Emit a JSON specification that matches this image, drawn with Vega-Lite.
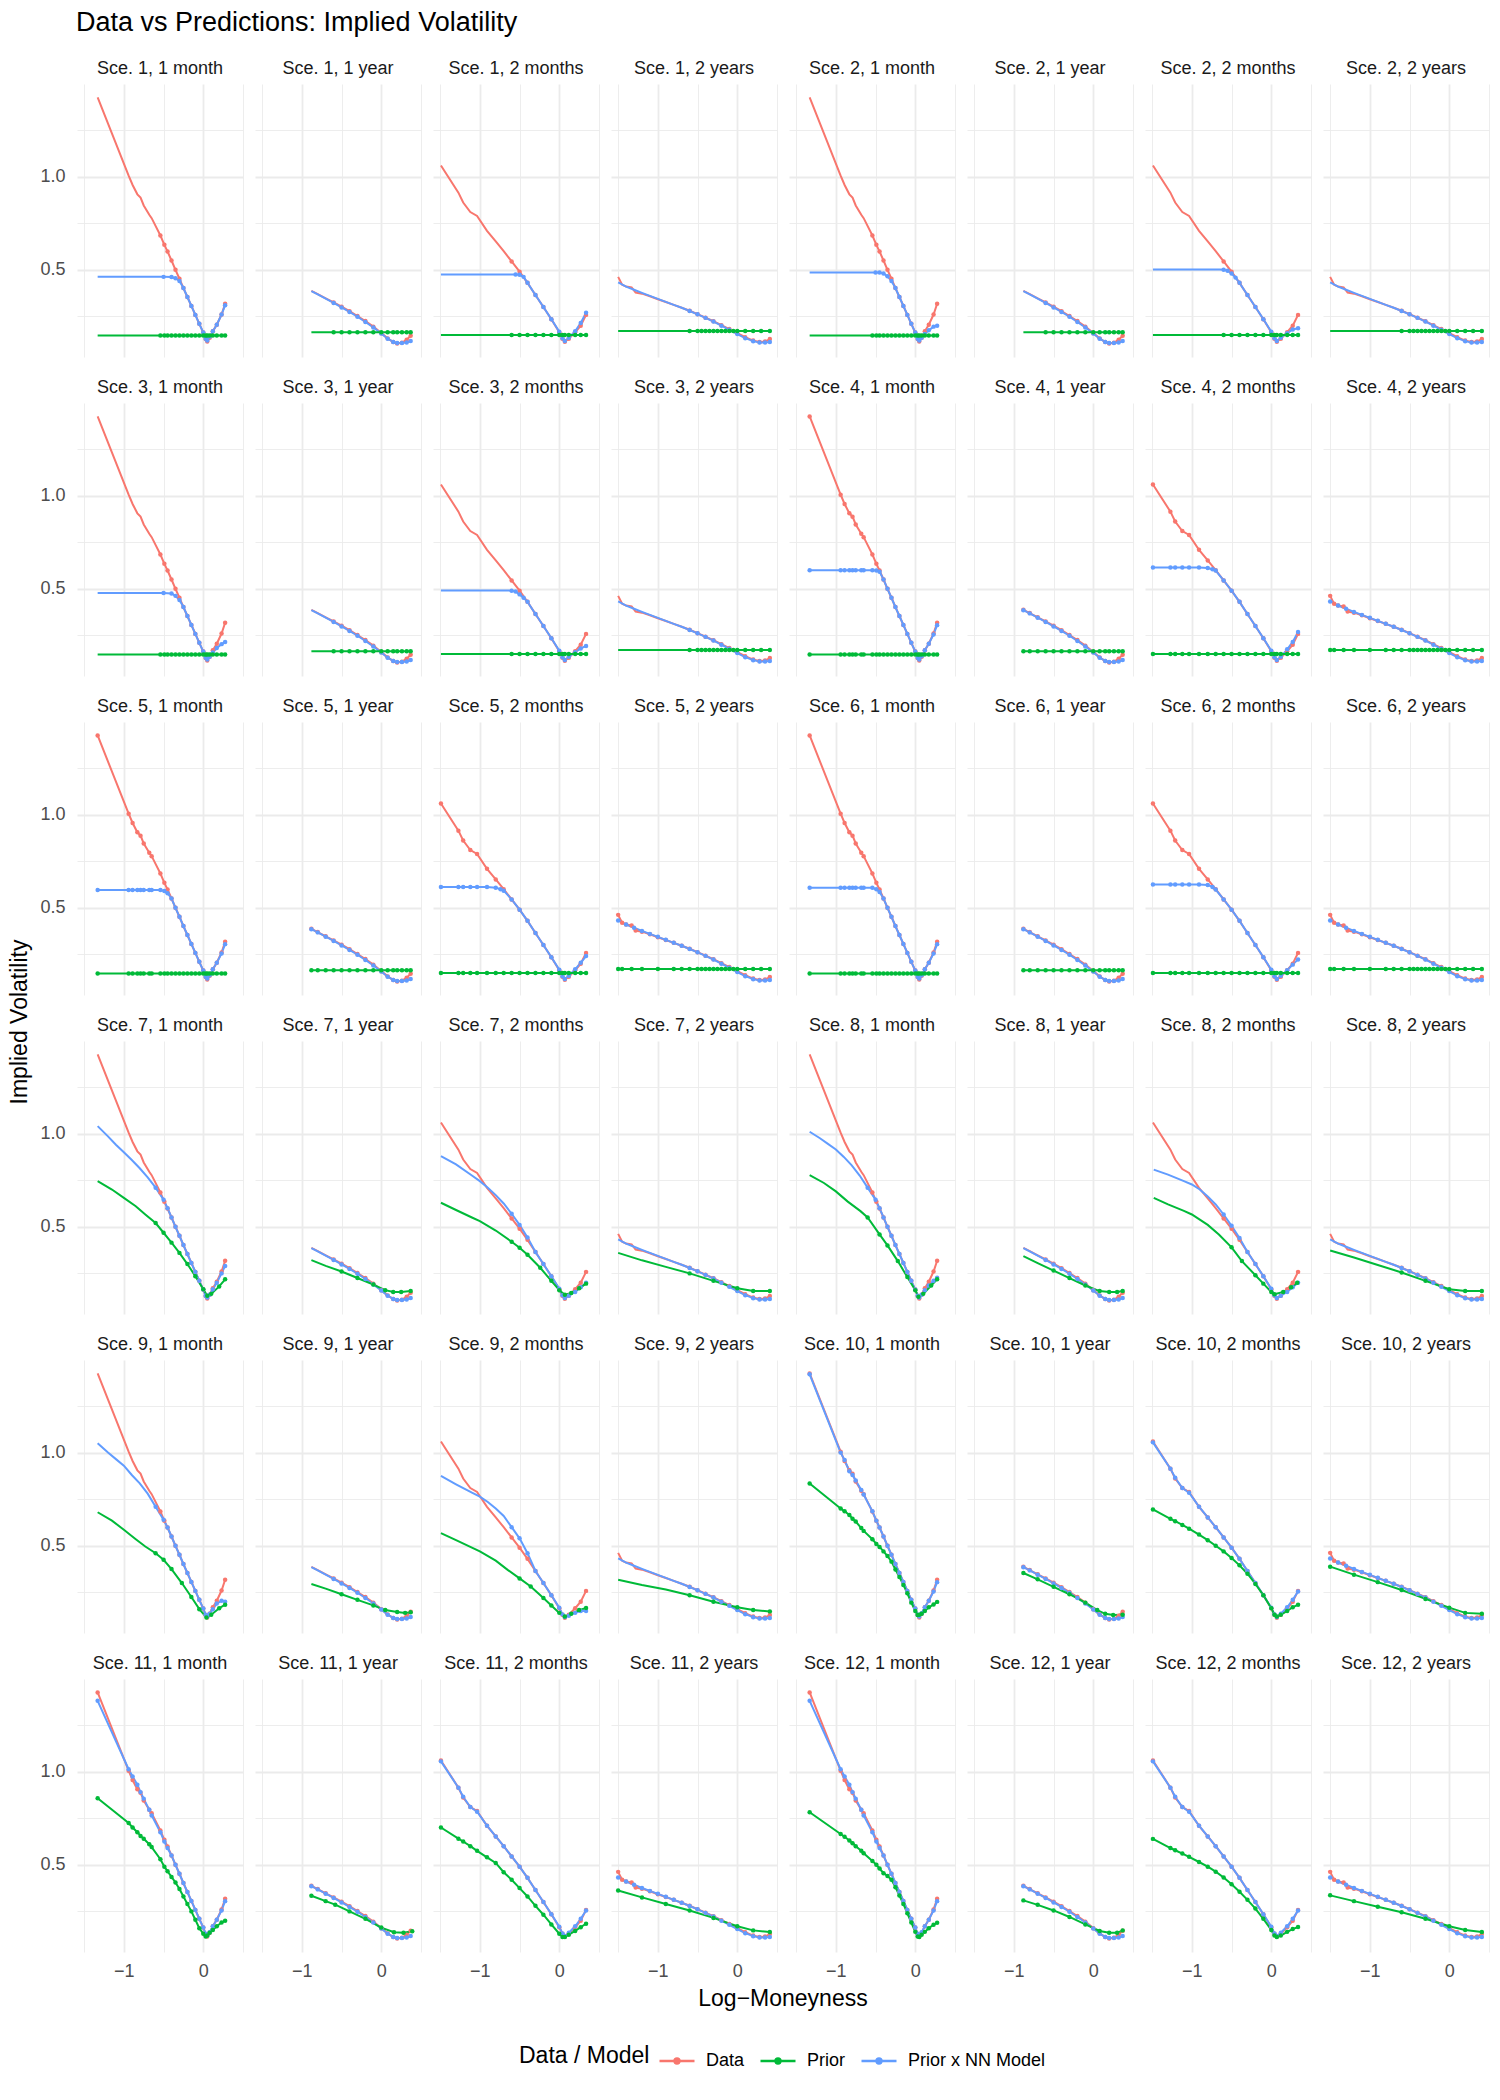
{
"$schema":"https://vega.github.io/schema/vega-lite/v6.json",
"padding":{"left":8,"top":9,"right":8,"bottom":8},
"title":{"text":"Data vs Predictions: Implied Volatility","anchor":"start","fontSize":27,"fontWeight":"normal","color":"#000000","offset":23,"dx":68},
"spacing":7,
"hconcat":[
{"data":{"values":[{"label":"Implied Volatility"}]},"width":24,"height":1876,"mark":{"type":"text","angle":270,"fontSize":23,"color":"#000000"},"encoding":{"text":{"field":"label","type":"nominal"}}},
{
"data":{"values":[
{"c":[1,2,3,4,5,6,7,8,9,10,11,12],"m":"1 month","s":"Data","x":-1.33,"y":1.425},
{"c":[1,2,3,4,5,6,7,8,9,10,11,12],"m":"1 month","s":"Data","x":-0.94,"y":1.005},
{"c":[1,2,3,4,5,6,7,8,9,10,11,12],"m":"1 month","s":"Data","x":-0.89,"y":0.955},
{"c":[1,2,3,4,5,6,7,8,9,10,11,12],"m":"1 month","s":"Data","x":-0.83,"y":0.905},
{"c":[1,2,3,4,5,6,7,8,9,10,11,12],"m":"1 month","s":"Data","x":-0.79,"y":0.887},
{"c":[1,2,3,4,5,6,7,8,9,10,11,12],"m":"1 month","s":"Data","x":-0.75,"y":0.845},
{"c":[1,2,3,4,5,6,7,8,9,10,11,12],"m":"1 month","s":"Data","x":-0.68,"y":0.795},
{"c":[1,2,3,4,5,6,7,8,9,10,11,12],"m":"1 month","s":"Data","x":-0.65,"y":0.777},
{"c":[1,2,3,4,5,6,7,8,9,10,11,12],"m":"1 month","s":"Data","x":-0.54,"y":0.684},
{"c":[1,2,3,4,5,6,7,8,9,10,11,12],"m":"1 month","s":"Data","x":-0.49,"y":0.634},
{"c":[1,2,3,4,5,6,7,8,9,10,11,12],"m":"1 month","s":"Data","x":-0.45,"y":0.598},
{"c":[1,2,3,4,5,6,7,8,9,10,11,12],"m":"1 month","s":"Data","x":-0.4,"y":0.55},
{"c":[1,2,3,4,5,6,7,8,9,10,11,12],"m":"1 month","s":"Data","x":-0.35,"y":0.5},
{"c":[1,2,3,4,5,6,7,8,9,10,11,12],"m":"1 month","s":"Data","x":-0.3,"y":0.452},
{"c":[1,2,3,4,5,6,7,8,9,10,11,12],"m":"1 month","s":"Data","x":-0.25,"y":0.402},
{"c":[1,2,3,4,5,6,7,8,9,10,11,12],"m":"1 month","s":"Data","x":-0.2,"y":0.354},
{"c":[1,2,3,4,5,6,7,8,9,10,11,12],"m":"1 month","s":"Data","x":-0.15,"y":0.306},
{"c":[1,2,3,4,5,6,7,8,9,10,11,12],"m":"1 month","s":"Data","x":-0.1,"y":0.258},
{"c":[1,2,3,4,5,6,7,8,9,10,11,12],"m":"1 month","s":"Data","x":-0.05,"y":0.21},
{"c":[1,2,3,4,5,6,7,8,9,10,11,12],"m":"1 month","s":"Data","x":0,"y":0.163},
{"c":[1,2,3,4,5,6,7,8,9,10,11,12],"m":"1 month","s":"Data","x":0.03,"y":0.128},
{"c":[1,2,3,4,5,6,7,8,9,10,11,12],"m":"1 month","s":"Data","x":0.05,"y":0.115},
{"c":[1,2,3,4,5,6,7,8,9,10,11,12],"m":"1 month","s":"Data","x":0.08,"y":0.135},
{"c":[1,2,3,4,5,6,7,8,9,10,11,12],"m":"1 month","s":"Data","x":0.12,"y":0.17},
{"c":[1,2,3,4,5,6,7,8,9,10,11,12],"m":"1 month","s":"Data","x":0.17,"y":0.205},
{"c":[1,2,3,4,5,6,7,8,9,10,11,12],"m":"1 month","s":"Data","x":0.23,"y":0.26},
{"c":[1,2,3,4,5,6,7,8,9,10,11,12],"m":"1 month","s":"Data","x":0.275,"y":0.318},
{"c":[1,2,3,4,5,6,7,8,9,10,11,12],"m":"1 year","s":"Data","x":-0.88,"y":0.387},
{"c":[1,2,3,4,5,6,7,8,9,10,11,12],"m":"1 year","s":"Data","x":-0.8,"y":0.37},
{"c":[1,2,3,4,5,6,7,8,9,10,11,12],"m":"1 year","s":"Data","x":-0.7,"y":0.347},
{"c":[1,2,3,4,5,6,7,8,9,10,11,12],"m":"1 year","s":"Data","x":-0.6,"y":0.325},
{"c":[1,2,3,4,5,6,7,8,9,10,11,12],"m":"1 year","s":"Data","x":-0.5,"y":0.302},
{"c":[1,2,3,4,5,6,7,8,9,10,11,12],"m":"1 year","s":"Data","x":-0.4,"y":0.278},
{"c":[1,2,3,4,5,6,7,8,9,10,11,12],"m":"1 year","s":"Data","x":-0.3,"y":0.252},
{"c":[1,2,3,4,5,6,7,8,9,10,11,12],"m":"1 year","s":"Data","x":-0.2,"y":0.225},
{"c":[1,2,3,4,5,6,7,8,9,10,11,12],"m":"1 year","s":"Data","x":-0.1,"y":0.195},
{"c":[1,2,3,4,5,6,7,8,9,10,11,12],"m":"1 year","s":"Data","x":0,"y":0.16},
{"c":[1,2,3,4,5,6,7,8,9,10,11,12],"m":"1 year","s":"Data","x":0.08,"y":0.132},
{"c":[1,2,3,4,5,6,7,8,9,10,11,12],"m":"1 year","s":"Data","x":0.15,"y":0.112},
{"c":[1,2,3,4,5,6,7,8,9,10,11,12],"m":"1 year","s":"Data","x":0.2,"y":0.105},
{"c":[1,2,3,4,5,6,7,8,9,10,11,12],"m":"1 year","s":"Data","x":0.26,"y":0.108},
{"c":[1,2,3,4,5,6,7,8,9,10,11,12],"m":"1 year","s":"Data","x":0.32,"y":0.125},
{"c":[1,2,3,4,5,6,7,8,9,10,11,12],"m":"1 year","s":"Data","x":0.37,"y":0.146},
{"c":[1,2,3,4,5,6,7,8,9,10,11,12],"m":"2 months","s":"Data","x":-1.49,"y":1.06},
{"c":[1,2,3,4,5,6,7,8,9,10,11,12],"m":"2 months","s":"Data","x":-1.27,"y":0.914},
{"c":[1,2,3,4,5,6,7,8,9,10,11,12],"m":"2 months","s":"Data","x":-1.21,"y":0.861},
{"c":[1,2,3,4,5,6,7,8,9,10,11,12],"m":"2 months","s":"Data","x":-1.12,"y":0.81},
{"c":[1,2,3,4,5,6,7,8,9,10,11,12],"m":"2 months","s":"Data","x":-1.035,"y":0.789},
{"c":[1,2,3,4,5,6,7,8,9,10,11,12],"m":"2 months","s":"Data","x":-0.91,"y":0.709},
{"c":[1,2,3,4,5,6,7,8,9,10,11,12],"m":"2 months","s":"Data","x":-0.8,"y":0.652},
{"c":[1,2,3,4,5,6,7,8,9,10,11,12],"m":"2 months","s":"Data","x":-0.7,"y":0.6},
{"c":[1,2,3,4,5,6,7,8,9,10,11,12],"m":"2 months","s":"Data","x":-0.6,"y":0.545},
{"c":[1,2,3,4,5,6,7,8,9,10,11,12],"m":"2 months","s":"Data","x":-0.5,"y":0.49},
{"c":[1,2,3,4,5,6,7,8,9,10,11,12],"m":"2 months","s":"Data","x":-0.4,"y":0.43},
{"c":[1,2,3,4,5,6,7,8,9,10,11,12],"m":"2 months","s":"Data","x":-0.3,"y":0.365},
{"c":[1,2,3,4,5,6,7,8,9,10,11,12],"m":"2 months","s":"Data","x":-0.2,"y":0.3},
{"c":[1,2,3,4,5,6,7,8,9,10,11,12],"m":"2 months","s":"Data","x":-0.1,"y":0.235},
{"c":[1,2,3,4,5,6,7,8,9,10,11,12],"m":"2 months","s":"Data","x":0,"y":0.165},
{"c":[1,2,3,4,5,6,7,8,9,10,11,12],"m":"2 months","s":"Data","x":0.04,"y":0.13},
{"c":[1,2,3,4,5,6,7,8,9,10,11,12],"m":"2 months","s":"Data","x":0.07,"y":0.114},
{"c":[1,2,3,4,5,6,7,8,9,10,11,12],"m":"2 months","s":"Data","x":0.12,"y":0.13},
{"c":[1,2,3,4,5,6,7,8,9,10,11,12],"m":"2 months","s":"Data","x":0.2,"y":0.165},
{"c":[1,2,3,4,5,6,7,8,9,10,11,12],"m":"2 months","s":"Data","x":0.27,"y":0.2},
{"c":[1,2,3,4,5,6,7,8,9,10,11,12],"m":"2 months","s":"Data","x":0.337,"y":0.258},
{"c":[1,2,3,4,5,6,7,8,9,10,11,12],"m":"2 years","s":"Data","x":-1.5,"y":0.462},
{"c":[1,2,3,4,5,6,7,8,9,10,11,12],"m":"2 years","s":"Data","x":-1.45,"y":0.42},
{"c":[1,2,3,4,5,6,7,8,9,10,11,12],"m":"2 years","s":"Data","x":-1.4,"y":0.41},
{"c":[1,2,3,4,5,6,7,8,9,10,11,12],"m":"2 years","s":"Data","x":-1.33,"y":0.405},
{"c":[1,2,3,4,5,6,7,8,9,10,11,12],"m":"2 years","s":"Data","x":-1.28,"y":0.378},
{"c":[1,2,3,4,5,6,7,8,9,10,11,12],"m":"2 years","s":"Data","x":-1.2,"y":0.372},
{"c":[1,2,3,4,5,6,7,8,9,10,11,12],"m":"2 years","s":"Data","x":-1.1,"y":0.358},
{"c":[1,2,3,4,5,6,7,8,9,10,11,12],"m":"2 years","s":"Data","x":-1,"y":0.342},
{"c":[1,2,3,4,5,6,7,8,9,10,11,12],"m":"2 years","s":"Data","x":-0.9,"y":0.327},
{"c":[1,2,3,4,5,6,7,8,9,10,11,12],"m":"2 years","s":"Data","x":-0.8,"y":0.312},
{"c":[1,2,3,4,5,6,7,8,9,10,11,12],"m":"2 years","s":"Data","x":-0.7,"y":0.296},
{"c":[1,2,3,4,5,6,7,8,9,10,11,12],"m":"2 years","s":"Data","x":-0.6,"y":0.28},
{"c":[1,2,3,4,5,6,7,8,9,10,11,12],"m":"2 years","s":"Data","x":-0.5,"y":0.262},
{"c":[1,2,3,4,5,6,7,8,9,10,11,12],"m":"2 years","s":"Data","x":-0.4,"y":0.243},
{"c":[1,2,3,4,5,6,7,8,9,10,11,12],"m":"2 years","s":"Data","x":-0.3,"y":0.224},
{"c":[1,2,3,4,5,6,7,8,9,10,11,12],"m":"2 years","s":"Data","x":-0.2,"y":0.203},
{"c":[1,2,3,4,5,6,7,8,9,10,11,12],"m":"2 years","s":"Data","x":-0.1,"y":0.182},
{"c":[1,2,3,4,5,6,7,8,9,10,11,12],"m":"2 years","s":"Data","x":0,"y":0.16},
{"c":[1,2,3,4,5,6,7,8,9,10,11,12],"m":"2 years","s":"Data","x":0.1,"y":0.138},
{"c":[1,2,3,4,5,6,7,8,9,10,11,12],"m":"2 years","s":"Data","x":0.2,"y":0.12},
{"c":[1,2,3,4,5,6,7,8,9,10,11,12],"m":"2 years","s":"Data","x":0.28,"y":0.112},
{"c":[1,2,3,4,5,6,7,8,9,10,11,12],"m":"2 years","s":"Data","x":0.35,"y":0.115},
{"c":[1,2,3,4,5,6,7,8,9,10,11,12],"m":"2 years","s":"Data","x":0.41,"y":0.128},
{"c":[1,2,3,4,5,6,7,8,9,10,11,12],"m":"1 year","s":"Prior x NN Model","x":-0.88,"y":0.385},
{"c":[1,2,3,4,5,6,7,8,9,10,11,12],"m":"1 year","s":"Prior x NN Model","x":-0.8,"y":0.368},
{"c":[1,2,3,4,5,6,7,8,9,10,11,12],"m":"1 year","s":"Prior x NN Model","x":-0.7,"y":0.345},
{"c":[1,2,3,4,5,6,7,8,9,10,11,12],"m":"1 year","s":"Prior x NN Model","x":-0.6,"y":0.322},
{"c":[1,2,3,4,5,6,7,8,9,10,11,12],"m":"1 year","s":"Prior x NN Model","x":-0.5,"y":0.298},
{"c":[1,2,3,4,5,6,7,8,9,10,11,12],"m":"1 year","s":"Prior x NN Model","x":-0.4,"y":0.274},
{"c":[1,2,3,4,5,6,7,8,9,10,11,12],"m":"1 year","s":"Prior x NN Model","x":-0.3,"y":0.248},
{"c":[1,2,3,4,5,6,7,8,9,10,11,12],"m":"1 year","s":"Prior x NN Model","x":-0.2,"y":0.22},
{"c":[1,2,3,4,5,6,7,8,9,10,11,12],"m":"1 year","s":"Prior x NN Model","x":-0.1,"y":0.19},
{"c":[1,2,3,4,5,6,7,8,9,10,11,12],"m":"1 year","s":"Prior x NN Model","x":0,"y":0.158},
{"c":[1,2,3,4,5,6,7,8,9,10,11,12],"m":"1 year","s":"Prior x NN Model","x":0.08,"y":0.13},
{"c":[1,2,3,4,5,6,7,8,9,10,11,12],"m":"1 year","s":"Prior x NN Model","x":0.15,"y":0.113},
{"c":[1,2,3,4,5,6,7,8,9,10,11,12],"m":"1 year","s":"Prior x NN Model","x":0.2,"y":0.107},
{"c":[1,2,3,4,5,6,7,8,9,10,11,12],"m":"1 year","s":"Prior x NN Model","x":0.26,"y":0.107},
{"c":[1,2,3,4,5,6,7,8,9,10,11,12],"m":"1 year","s":"Prior x NN Model","x":0.32,"y":0.11},
{"c":[1,2,3,4,5,6,7,8,9,10,11,12],"m":"1 year","s":"Prior x NN Model","x":0.37,"y":0.118},
{"c":[1,2,3,4,5,6,7,8,9,10,11,12],"m":"2 years","s":"Prior x NN Model","x":-1.5,"y":0.432},
{"c":[1,2,3,4,5,6,7,8,9,10,11,12],"m":"2 years","s":"Prior x NN Model","x":-1.4,"y":0.41},
{"c":[1,2,3,4,5,6,7,8,9,10,11,12],"m":"2 years","s":"Prior x NN Model","x":-1.3,"y":0.393},
{"c":[1,2,3,4,5,6,7,8,9,10,11,12],"m":"2 years","s":"Prior x NN Model","x":-1.2,"y":0.376},
{"c":[1,2,3,4,5,6,7,8,9,10,11,12],"m":"2 years","s":"Prior x NN Model","x":-1.1,"y":0.36},
{"c":[1,2,3,4,5,6,7,8,9,10,11,12],"m":"2 years","s":"Prior x NN Model","x":-1,"y":0.344},
{"c":[1,2,3,4,5,6,7,8,9,10,11,12],"m":"2 years","s":"Prior x NN Model","x":-0.9,"y":0.328},
{"c":[1,2,3,4,5,6,7,8,9,10,11,12],"m":"2 years","s":"Prior x NN Model","x":-0.8,"y":0.312},
{"c":[1,2,3,4,5,6,7,8,9,10,11,12],"m":"2 years","s":"Prior x NN Model","x":-0.7,"y":0.296},
{"c":[1,2,3,4,5,6,7,8,9,10,11,12],"m":"2 years","s":"Prior x NN Model","x":-0.6,"y":0.279},
{"c":[1,2,3,4,5,6,7,8,9,10,11,12],"m":"2 years","s":"Prior x NN Model","x":-0.5,"y":0.261},
{"c":[1,2,3,4,5,6,7,8,9,10,11,12],"m":"2 years","s":"Prior x NN Model","x":-0.4,"y":0.242},
{"c":[1,2,3,4,5,6,7,8,9,10,11,12],"m":"2 years","s":"Prior x NN Model","x":-0.3,"y":0.222},
{"c":[1,2,3,4,5,6,7,8,9,10,11,12],"m":"2 years","s":"Prior x NN Model","x":-0.2,"y":0.2},
{"c":[1,2,3,4,5,6,7,8,9,10,11,12],"m":"2 years","s":"Prior x NN Model","x":-0.1,"y":0.178},
{"c":[1,2,3,4,5,6,7,8,9,10,11,12],"m":"2 years","s":"Prior x NN Model","x":0,"y":0.155},
{"c":[1,2,3,4,5,6,7,8,9,10,11,12],"m":"2 years","s":"Prior x NN Model","x":0.1,"y":0.133},
{"c":[1,2,3,4,5,6,7,8,9,10,11,12],"m":"2 years","s":"Prior x NN Model","x":0.2,"y":0.117},
{"c":[1,2,3,4,5,6,7,8,9,10,11,12],"m":"2 years","s":"Prior x NN Model","x":0.28,"y":0.11},
{"c":[1,2,3,4,5,6,7,8,9,10,11,12],"m":"2 years","s":"Prior x NN Model","x":0.35,"y":0.11},
{"c":[1,2,3,4,5,6,7,8,9,10,11,12],"m":"2 years","s":"Prior x NN Model","x":0.41,"y":0.112},
{"c":[1,2,3,4,5,6,7,8,9,10,11,12],"m":"1 month","s":"Prior x NN Model","x":-0.25,"y":0.402},
{"c":[1,2,3,4,5,6,7,8,9,10,11,12],"m":"1 month","s":"Prior x NN Model","x":-0.2,"y":0.354},
{"c":[1,2,3,4,5,6,7,8,9,10,11,12],"m":"1 month","s":"Prior x NN Model","x":-0.15,"y":0.306},
{"c":[1,2,3,4,5,6,7,8,9,10,11,12],"m":"1 month","s":"Prior x NN Model","x":-0.1,"y":0.258},
{"c":[1,2,3,4,5,6,7,8,9,10,11,12],"m":"1 month","s":"Prior x NN Model","x":-0.05,"y":0.21},
{"c":[1,2,3,4,5,6,7,8,9,10,11,12],"m":"1 month","s":"Prior x NN Model","x":0,"y":0.163},
{"c":[1,2,3,4,5,6,7,8,9,10,11,12],"m":"1 month","s":"Prior x NN Model","x":0.03,"y":0.13},
{"c":[1,2,3,4,5,6,7,8,9,10,11,12],"m":"1 month","s":"Prior x NN Model","x":0.05,"y":0.12},
{"c":[4,5,6,7,8,9,10,11,12],"m":"1 month","s":"Prior x NN Model","x":-0.4,"y":0.55},
{"c":[4,5,6,7,8,9,10,11,12],"m":"1 month","s":"Prior x NN Model","x":-0.35,"y":0.5},
{"c":[4,5,6,7,8,9,10,11,12],"m":"1 month","s":"Prior x NN Model","x":-0.3,"y":0.452},
{"c":[1],"m":"1 month","s":"Prior x NN Model","x":-1.33,"y":0.462},
{"c":[1],"m":"1 month","s":"Prior x NN Model","x":-0.65,"y":0.462},
{"c":[1],"m":"1 month","s":"Prior x NN Model","x":-0.5,"y":0.462},
{"c":[1],"m":"1 month","s":"Prior x NN Model","x":-0.4,"y":0.461},
{"c":[1],"m":"1 month","s":"Prior x NN Model","x":-0.35,"y":0.455},
{"c":[1],"m":"1 month","s":"Prior x NN Model","x":-0.3,"y":0.44},
{"c":[2],"m":"1 month","s":"Prior x NN Model","x":-1.33,"y":0.486},
{"c":[2],"m":"1 month","s":"Prior x NN Model","x":-0.65,"y":0.486},
{"c":[2],"m":"1 month","s":"Prior x NN Model","x":-0.5,"y":0.486},
{"c":[2],"m":"1 month","s":"Prior x NN Model","x":-0.45,"y":0.485},
{"c":[2],"m":"1 month","s":"Prior x NN Model","x":-0.4,"y":0.48},
{"c":[2],"m":"1 month","s":"Prior x NN Model","x":-0.35,"y":0.465},
{"c":[2],"m":"1 month","s":"Prior x NN Model","x":-0.3,"y":0.44},
{"c":[3],"m":"1 month","s":"Prior x NN Model","x":-1.33,"y":0.477},
{"c":[3],"m":"1 month","s":"Prior x NN Model","x":-0.65,"y":0.477},
{"c":[3],"m":"1 month","s":"Prior x NN Model","x":-0.5,"y":0.477},
{"c":[3],"m":"1 month","s":"Prior x NN Model","x":-0.4,"y":0.475},
{"c":[3],"m":"1 month","s":"Prior x NN Model","x":-0.35,"y":0.462},
{"c":[3],"m":"1 month","s":"Prior x NN Model","x":-0.3,"y":0.44},
{"c":[4],"m":"1 month","s":"Prior x NN Model","x":-1.33,"y":0.6},
{"c":[4],"m":"1 month","s":"Prior x NN Model","x":-0.94,"y":0.6},
{"c":[4],"m":"1 month","s":"Prior x NN Model","x":-0.89,"y":0.6},
{"c":[4],"m":"1 month","s":"Prior x NN Model","x":-0.83,"y":0.6},
{"c":[4],"m":"1 month","s":"Prior x NN Model","x":-0.79,"y":0.6},
{"c":[4],"m":"1 month","s":"Prior x NN Model","x":-0.75,"y":0.6},
{"c":[4],"m":"1 month","s":"Prior x NN Model","x":-0.68,"y":0.6},
{"c":[4],"m":"1 month","s":"Prior x NN Model","x":-0.65,"y":0.6},
{"c":[4],"m":"1 month","s":"Prior x NN Model","x":-0.54,"y":0.6},
{"c":[4],"m":"1 month","s":"Prior x NN Model","x":-0.49,"y":0.598},
{"c":[4],"m":"1 month","s":"Prior x NN Model","x":-0.45,"y":0.592},
{"c":[5],"m":"1 month","s":"Prior x NN Model","x":-1.33,"y":0.595},
{"c":[5],"m":"1 month","s":"Prior x NN Model","x":-0.94,"y":0.595},
{"c":[5],"m":"1 month","s":"Prior x NN Model","x":-0.89,"y":0.595},
{"c":[5],"m":"1 month","s":"Prior x NN Model","x":-0.83,"y":0.595},
{"c":[5],"m":"1 month","s":"Prior x NN Model","x":-0.79,"y":0.595},
{"c":[5],"m":"1 month","s":"Prior x NN Model","x":-0.75,"y":0.595},
{"c":[5],"m":"1 month","s":"Prior x NN Model","x":-0.68,"y":0.595},
{"c":[5],"m":"1 month","s":"Prior x NN Model","x":-0.65,"y":0.595},
{"c":[5],"m":"1 month","s":"Prior x NN Model","x":-0.54,"y":0.595},
{"c":[5],"m":"1 month","s":"Prior x NN Model","x":-0.49,"y":0.59},
{"c":[5],"m":"1 month","s":"Prior x NN Model","x":-0.45,"y":0.578},
{"c":[6],"m":"1 month","s":"Prior x NN Model","x":-1.33,"y":0.607},
{"c":[6],"m":"1 month","s":"Prior x NN Model","x":-0.94,"y":0.607},
{"c":[6],"m":"1 month","s":"Prior x NN Model","x":-0.89,"y":0.607},
{"c":[6],"m":"1 month","s":"Prior x NN Model","x":-0.83,"y":0.607},
{"c":[6],"m":"1 month","s":"Prior x NN Model","x":-0.79,"y":0.607},
{"c":[6],"m":"1 month","s":"Prior x NN Model","x":-0.75,"y":0.607},
{"c":[6],"m":"1 month","s":"Prior x NN Model","x":-0.68,"y":0.607},
{"c":[6],"m":"1 month","s":"Prior x NN Model","x":-0.65,"y":0.607},
{"c":[6],"m":"1 month","s":"Prior x NN Model","x":-0.54,"y":0.607},
{"c":[6],"m":"1 month","s":"Prior x NN Model","x":-0.49,"y":0.6},
{"c":[6],"m":"1 month","s":"Prior x NN Model","x":-0.45,"y":0.585},
{"c":[7],"m":"1 month","s":"Prior x NN Model","x":-1.33,"y":1.04},
{"c":[7],"m":"1 month","s":"Prior x NN Model","x":-1.2,"y":0.985},
{"c":[7],"m":"1 month","s":"Prior x NN Model","x":-1.1,"y":0.94},
{"c":[7],"m":"1 month","s":"Prior x NN Model","x":-1,"y":0.9},
{"c":[7],"m":"1 month","s":"Prior x NN Model","x":-0.9,"y":0.858},
{"c":[7],"m":"1 month","s":"Prior x NN Model","x":-0.8,"y":0.814},
{"c":[7],"m":"1 month","s":"Prior x NN Model","x":-0.7,"y":0.765},
{"c":[7],"m":"1 month","s":"Prior x NN Model","x":-0.6,"y":0.71},
{"c":[7],"m":"1 month","s":"Prior x NN Model","x":-0.5,"y":0.645},
{"c":[7],"m":"1 month","s":"Prior x NN Model","x":-0.45,"y":0.6},
{"c":[8],"m":"1 month","s":"Prior x NN Model","x":-1.33,"y":1.01},
{"c":[8],"m":"1 month","s":"Prior x NN Model","x":-1.2,"y":0.975},
{"c":[8],"m":"1 month","s":"Prior x NN Model","x":-1.1,"y":0.945},
{"c":[8],"m":"1 month","s":"Prior x NN Model","x":-1,"y":0.915},
{"c":[8],"m":"1 month","s":"Prior x NN Model","x":-0.9,"y":0.875},
{"c":[8],"m":"1 month","s":"Prior x NN Model","x":-0.8,"y":0.83},
{"c":[8],"m":"1 month","s":"Prior x NN Model","x":-0.7,"y":0.775},
{"c":[8],"m":"1 month","s":"Prior x NN Model","x":-0.6,"y":0.71},
{"c":[8],"m":"1 month","s":"Prior x NN Model","x":-0.5,"y":0.645},
{"c":[8],"m":"1 month","s":"Prior x NN Model","x":-0.45,"y":0.6},
{"c":[9],"m":"1 month","s":"Prior x NN Model","x":-1.33,"y":1.05},
{"c":[9],"m":"1 month","s":"Prior x NN Model","x":-1.2,"y":1.0},
{"c":[9],"m":"1 month","s":"Prior x NN Model","x":-1.1,"y":0.965},
{"c":[9],"m":"1 month","s":"Prior x NN Model","x":-1,"y":0.93},
{"c":[9],"m":"1 month","s":"Prior x NN Model","x":-0.9,"y":0.88},
{"c":[9],"m":"1 month","s":"Prior x NN Model","x":-0.8,"y":0.835},
{"c":[9],"m":"1 month","s":"Prior x NN Model","x":-0.7,"y":0.78},
{"c":[9],"m":"1 month","s":"Prior x NN Model","x":-0.6,"y":0.71},
{"c":[9],"m":"1 month","s":"Prior x NN Model","x":-0.5,"y":0.64},
{"c":[9],"m":"1 month","s":"Prior x NN Model","x":-0.45,"y":0.598},
{"c":[10],"m":"1 month","s":"Prior x NN Model","x":-1.33,"y":1.42},
{"c":[10],"m":"1 month","s":"Prior x NN Model","x":-0.94,"y":1.0},
{"c":[10],"m":"1 month","s":"Prior x NN Model","x":-0.89,"y":0.96},
{"c":[10],"m":"1 month","s":"Prior x NN Model","x":-0.83,"y":0.9},
{"c":[10],"m":"1 month","s":"Prior x NN Model","x":-0.79,"y":0.88},
{"c":[10],"m":"1 month","s":"Prior x NN Model","x":-0.75,"y":0.85},
{"c":[10],"m":"1 month","s":"Prior x NN Model","x":-0.68,"y":0.8},
{"c":[10],"m":"1 month","s":"Prior x NN Model","x":-0.65,"y":0.775},
{"c":[10],"m":"1 month","s":"Prior x NN Model","x":-0.54,"y":0.685},
{"c":[10],"m":"1 month","s":"Prior x NN Model","x":-0.49,"y":0.635},
{"c":[10],"m":"1 month","s":"Prior x NN Model","x":-0.45,"y":0.598},
{"c":[11,12],"m":"1 month","s":"Prior x NN Model","x":-1.33,"y":1.38},
{"c":[11,12],"m":"1 month","s":"Prior x NN Model","x":-0.94,"y":1.013},
{"c":[11,12],"m":"1 month","s":"Prior x NN Model","x":-0.89,"y":0.974},
{"c":[11,12],"m":"1 month","s":"Prior x NN Model","x":-0.83,"y":0.93},
{"c":[11,12],"m":"1 month","s":"Prior x NN Model","x":-0.79,"y":0.89},
{"c":[11,12],"m":"1 month","s":"Prior x NN Model","x":-0.75,"y":0.855},
{"c":[11,12],"m":"1 month","s":"Prior x NN Model","x":-0.68,"y":0.795},
{"c":[11,12],"m":"1 month","s":"Prior x NN Model","x":-0.65,"y":0.765},
{"c":[11,12],"m":"1 month","s":"Prior x NN Model","x":-0.54,"y":0.675},
{"c":[11,12],"m":"1 month","s":"Prior x NN Model","x":-0.49,"y":0.625},
{"c":[11,12],"m":"1 month","s":"Prior x NN Model","x":-0.45,"y":0.59},
{"c":[1],"m":"1 month","s":"Prior x NN Model","x":0.08,"y":0.14},
{"c":[1],"m":"1 month","s":"Prior x NN Model","x":0.12,"y":0.17},
{"c":[1],"m":"1 month","s":"Prior x NN Model","x":0.17,"y":0.205},
{"c":[1],"m":"1 month","s":"Prior x NN Model","x":0.23,"y":0.26},
{"c":[1],"m":"1 month","s":"Prior x NN Model","x":0.275,"y":0.31},
{"c":[2],"m":"1 month","s":"Prior x NN Model","x":0.08,"y":0.135},
{"c":[2],"m":"1 month","s":"Prior x NN Model","x":0.12,"y":0.155},
{"c":[2],"m":"1 month","s":"Prior x NN Model","x":0.17,"y":0.175},
{"c":[2],"m":"1 month","s":"Prior x NN Model","x":0.23,"y":0.195},
{"c":[2],"m":"1 month","s":"Prior x NN Model","x":0.275,"y":0.2},
{"c":[3],"m":"1 month","s":"Prior x NN Model","x":0.08,"y":0.135},
{"c":[3],"m":"1 month","s":"Prior x NN Model","x":0.12,"y":0.158},
{"c":[3],"m":"1 month","s":"Prior x NN Model","x":0.17,"y":0.182},
{"c":[3],"m":"1 month","s":"Prior x NN Model","x":0.23,"y":0.203},
{"c":[3],"m":"1 month","s":"Prior x NN Model","x":0.275,"y":0.215},
{"c":[4,5,6,10,11,12],"m":"1 month","s":"Prior x NN Model","x":0.08,"y":0.138},
{"c":[4,5,6,10,11,12],"m":"1 month","s":"Prior x NN Model","x":0.12,"y":0.17},
{"c":[4,5,6,10,11,12],"m":"1 month","s":"Prior x NN Model","x":0.17,"y":0.205},
{"c":[4,5,6,10,11,12],"m":"1 month","s":"Prior x NN Model","x":0.23,"y":0.255},
{"c":[4,5,6,10,11,12],"m":"1 month","s":"Prior x NN Model","x":0.275,"y":0.305},
{"c":[7],"m":"1 month","s":"Prior x NN Model","x":0.08,"y":0.135},
{"c":[7],"m":"1 month","s":"Prior x NN Model","x":0.12,"y":0.165},
{"c":[7],"m":"1 month","s":"Prior x NN Model","x":0.17,"y":0.2},
{"c":[7],"m":"1 month","s":"Prior x NN Model","x":0.23,"y":0.25},
{"c":[7],"m":"1 month","s":"Prior x NN Model","x":0.275,"y":0.29},
{"c":[8],"m":"1 month","s":"Prior x NN Model","x":0.08,"y":0.135},
{"c":[8],"m":"1 month","s":"Prior x NN Model","x":0.12,"y":0.16},
{"c":[8],"m":"1 month","s":"Prior x NN Model","x":0.17,"y":0.185},
{"c":[8],"m":"1 month","s":"Prior x NN Model","x":0.23,"y":0.21},
{"c":[8],"m":"1 month","s":"Prior x NN Model","x":0.275,"y":0.227},
{"c":[9],"m":"1 month","s":"Prior x NN Model","x":0.08,"y":0.135},
{"c":[9],"m":"1 month","s":"Prior x NN Model","x":0.12,"y":0.16},
{"c":[9],"m":"1 month","s":"Prior x NN Model","x":0.17,"y":0.19},
{"c":[9],"m":"1 month","s":"Prior x NN Model","x":0.23,"y":0.205},
{"c":[9],"m":"1 month","s":"Prior x NN Model","x":0.275,"y":0.2},
{"c":[1,2,3,4,5,6,7,8,9,10,11,12],"m":"2 months","s":"Prior x NN Model","x":-0.3,"y":0.365},
{"c":[1,2,3,4,5,6,7,8,9,10,11,12],"m":"2 months","s":"Prior x NN Model","x":-0.2,"y":0.3},
{"c":[1,2,3,4,5,6,7,8,9,10,11,12],"m":"2 months","s":"Prior x NN Model","x":-0.1,"y":0.235},
{"c":[1,2,3,4,5,6,7,8,9,10,11,12],"m":"2 months","s":"Prior x NN Model","x":0,"y":0.168},
{"c":[1,2,3,4,5,6,7,8,9,10,11,12],"m":"2 months","s":"Prior x NN Model","x":0.04,"y":0.132},
{"c":[1,2,3,4,5,6,7,8,9,10,11,12],"m":"2 months","s":"Prior x NN Model","x":0.07,"y":0.118},
{"c":[4,5,6,10,11,12],"m":"2 months","s":"Prior x NN Model","x":-0.6,"y":0.545},
{"c":[4,5,6,10,11,12],"m":"2 months","s":"Prior x NN Model","x":-0.5,"y":0.49},
{"c":[4,5,6,10,11,12],"m":"2 months","s":"Prior x NN Model","x":-0.4,"y":0.43},
{"c":[1],"m":"2 months","s":"Prior x NN Model","x":-1.49,"y":0.475},
{"c":[1],"m":"2 months","s":"Prior x NN Model","x":-0.65,"y":0.475},
{"c":[1],"m":"2 months","s":"Prior x NN Model","x":-0.55,"y":0.475},
{"c":[1],"m":"2 months","s":"Prior x NN Model","x":-0.5,"y":0.473},
{"c":[1],"m":"2 months","s":"Prior x NN Model","x":-0.45,"y":0.462},
{"c":[1],"m":"2 months","s":"Prior x NN Model","x":-0.4,"y":0.43},
{"c":[2],"m":"2 months","s":"Prior x NN Model","x":-1.49,"y":0.502},
{"c":[2],"m":"2 months","s":"Prior x NN Model","x":-0.65,"y":0.502},
{"c":[2],"m":"2 months","s":"Prior x NN Model","x":-0.6,"y":0.5},
{"c":[2],"m":"2 months","s":"Prior x NN Model","x":-0.55,"y":0.495},
{"c":[2],"m":"2 months","s":"Prior x NN Model","x":-0.5,"y":0.48},
{"c":[2],"m":"2 months","s":"Prior x NN Model","x":-0.45,"y":0.458},
{"c":[2],"m":"2 months","s":"Prior x NN Model","x":-0.4,"y":0.43},
{"c":[3],"m":"2 months","s":"Prior x NN Model","x":-1.49,"y":0.491},
{"c":[3],"m":"2 months","s":"Prior x NN Model","x":-0.65,"y":0.491},
{"c":[3],"m":"2 months","s":"Prior x NN Model","x":-0.6,"y":0.49},
{"c":[3],"m":"2 months","s":"Prior x NN Model","x":-0.55,"y":0.485},
{"c":[3],"m":"2 months","s":"Prior x NN Model","x":-0.5,"y":0.47},
{"c":[3],"m":"2 months","s":"Prior x NN Model","x":-0.45,"y":0.452},
{"c":[3],"m":"2 months","s":"Prior x NN Model","x":-0.4,"y":0.43},
{"c":[4],"m":"2 months","s":"Prior x NN Model","x":-1.49,"y":0.614},
{"c":[4],"m":"2 months","s":"Prior x NN Model","x":-1.27,"y":0.614},
{"c":[4],"m":"2 months","s":"Prior x NN Model","x":-1.21,"y":0.614},
{"c":[4],"m":"2 months","s":"Prior x NN Model","x":-1.12,"y":0.614},
{"c":[4],"m":"2 months","s":"Prior x NN Model","x":-1.035,"y":0.614},
{"c":[4],"m":"2 months","s":"Prior x NN Model","x":-0.91,"y":0.614},
{"c":[4],"m":"2 months","s":"Prior x NN Model","x":-0.8,"y":0.612},
{"c":[4],"m":"2 months","s":"Prior x NN Model","x":-0.74,"y":0.605},
{"c":[4],"m":"2 months","s":"Prior x NN Model","x":-0.7,"y":0.598},
{"c":[5],"m":"2 months","s":"Prior x NN Model","x":-1.49,"y":0.611},
{"c":[5],"m":"2 months","s":"Prior x NN Model","x":-1.27,"y":0.611},
{"c":[5],"m":"2 months","s":"Prior x NN Model","x":-1.21,"y":0.611},
{"c":[5],"m":"2 months","s":"Prior x NN Model","x":-1.12,"y":0.611},
{"c":[5],"m":"2 months","s":"Prior x NN Model","x":-1.035,"y":0.611},
{"c":[5],"m":"2 months","s":"Prior x NN Model","x":-0.91,"y":0.611},
{"c":[5],"m":"2 months","s":"Prior x NN Model","x":-0.8,"y":0.608},
{"c":[5],"m":"2 months","s":"Prior x NN Model","x":-0.74,"y":0.6},
{"c":[5],"m":"2 months","s":"Prior x NN Model","x":-0.7,"y":0.592},
{"c":[6],"m":"2 months","s":"Prior x NN Model","x":-1.49,"y":0.625},
{"c":[6],"m":"2 months","s":"Prior x NN Model","x":-1.27,"y":0.625},
{"c":[6],"m":"2 months","s":"Prior x NN Model","x":-1.21,"y":0.625},
{"c":[6],"m":"2 months","s":"Prior x NN Model","x":-1.12,"y":0.625},
{"c":[6],"m":"2 months","s":"Prior x NN Model","x":-1.035,"y":0.625},
{"c":[6],"m":"2 months","s":"Prior x NN Model","x":-0.91,"y":0.625},
{"c":[6],"m":"2 months","s":"Prior x NN Model","x":-0.8,"y":0.622},
{"c":[6],"m":"2 months","s":"Prior x NN Model","x":-0.74,"y":0.612},
{"c":[6],"m":"2 months","s":"Prior x NN Model","x":-0.7,"y":0.598},
{"c":[7],"m":"2 months","s":"Prior x NN Model","x":-1.49,"y":0.879},
{"c":[7],"m":"2 months","s":"Prior x NN Model","x":-1.3,"y":0.835},
{"c":[7],"m":"2 months","s":"Prior x NN Model","x":-1.1,"y":0.775},
{"c":[7],"m":"2 months","s":"Prior x NN Model","x":-1,"y":0.745},
{"c":[7],"m":"2 months","s":"Prior x NN Model","x":-0.9,"y":0.71},
{"c":[7],"m":"2 months","s":"Prior x NN Model","x":-0.8,"y":0.67},
{"c":[7],"m":"2 months","s":"Prior x NN Model","x":-0.7,"y":0.625},
{"c":[7],"m":"2 months","s":"Prior x NN Model","x":-0.6,"y":0.57},
{"c":[7],"m":"2 months","s":"Prior x NN Model","x":-0.5,"y":0.51},
{"c":[7],"m":"2 months","s":"Prior x NN Model","x":-0.4,"y":0.443},
{"c":[8],"m":"2 months","s":"Prior x NN Model","x":-1.48,"y":0.807},
{"c":[8],"m":"2 months","s":"Prior x NN Model","x":-1.3,"y":0.78},
{"c":[8],"m":"2 months","s":"Prior x NN Model","x":-1.1,"y":0.745},
{"c":[8],"m":"2 months","s":"Prior x NN Model","x":-1,"y":0.727},
{"c":[8],"m":"2 months","s":"Prior x NN Model","x":-0.9,"y":0.7},
{"c":[8],"m":"2 months","s":"Prior x NN Model","x":-0.8,"y":0.662},
{"c":[8],"m":"2 months","s":"Prior x NN Model","x":-0.7,"y":0.62},
{"c":[8],"m":"2 months","s":"Prior x NN Model","x":-0.6,"y":0.566},
{"c":[8],"m":"2 months","s":"Prior x NN Model","x":-0.5,"y":0.505},
{"c":[8],"m":"2 months","s":"Prior x NN Model","x":-0.4,"y":0.44},
{"c":[9],"m":"2 months","s":"Prior x NN Model","x":-1.49,"y":0.875},
{"c":[9],"m":"2 months","s":"Prior x NN Model","x":-1.3,"y":0.83},
{"c":[9],"m":"2 months","s":"Prior x NN Model","x":-1.1,"y":0.785},
{"c":[9],"m":"2 months","s":"Prior x NN Model","x":-1,"y":0.764},
{"c":[9],"m":"2 months","s":"Prior x NN Model","x":-0.9,"y":0.735},
{"c":[9],"m":"2 months","s":"Prior x NN Model","x":-0.8,"y":0.7},
{"c":[9],"m":"2 months","s":"Prior x NN Model","x":-0.7,"y":0.66},
{"c":[9],"m":"2 months","s":"Prior x NN Model","x":-0.6,"y":0.6},
{"c":[9],"m":"2 months","s":"Prior x NN Model","x":-0.5,"y":0.54},
{"c":[9],"m":"2 months","s":"Prior x NN Model","x":-0.4,"y":0.46},
{"c":[10,11,12],"m":"2 months","s":"Prior x NN Model","x":-1.49,"y":1.055},
{"c":[10,11,12],"m":"2 months","s":"Prior x NN Model","x":-1.27,"y":0.914},
{"c":[10,11,12],"m":"2 months","s":"Prior x NN Model","x":-1.21,"y":0.865},
{"c":[10,11,12],"m":"2 months","s":"Prior x NN Model","x":-1.12,"y":0.81},
{"c":[10,11,12],"m":"2 months","s":"Prior x NN Model","x":-1.035,"y":0.785},
{"c":[10,11,12],"m":"2 months","s":"Prior x NN Model","x":-0.91,"y":0.71},
{"c":[10,11,12],"m":"2 months","s":"Prior x NN Model","x":-0.8,"y":0.652},
{"c":[10,11,12],"m":"2 months","s":"Prior x NN Model","x":-0.7,"y":0.6},
{"c":[1],"m":"2 months","s":"Prior x NN Model","x":0.12,"y":0.135},
{"c":[1],"m":"2 months","s":"Prior x NN Model","x":0.2,"y":0.17},
{"c":[1],"m":"2 months","s":"Prior x NN Model","x":0.27,"y":0.215},
{"c":[1],"m":"2 months","s":"Prior x NN Model","x":0.337,"y":0.27},
{"c":[2],"m":"2 months","s":"Prior x NN Model","x":0.12,"y":0.135},
{"c":[2],"m":"2 months","s":"Prior x NN Model","x":0.2,"y":0.16},
{"c":[2],"m":"2 months","s":"Prior x NN Model","x":0.27,"y":0.18},
{"c":[2],"m":"2 months","s":"Prior x NN Model","x":0.337,"y":0.186},
{"c":[3],"m":"2 months","s":"Prior x NN Model","x":0.12,"y":0.135},
{"c":[3],"m":"2 months","s":"Prior x NN Model","x":0.2,"y":0.16},
{"c":[3],"m":"2 months","s":"Prior x NN Model","x":0.27,"y":0.18},
{"c":[3],"m":"2 months","s":"Prior x NN Model","x":0.337,"y":0.193},
{"c":[4],"m":"2 months","s":"Prior x NN Model","x":0.12,"y":0.135},
{"c":[4],"m":"2 months","s":"Prior x NN Model","x":0.2,"y":0.175},
{"c":[4],"m":"2 months","s":"Prior x NN Model","x":0.27,"y":0.215},
{"c":[4],"m":"2 months","s":"Prior x NN Model","x":0.337,"y":0.268},
{"c":[5],"m":"2 months","s":"Prior x NN Model","x":0.12,"y":0.135},
{"c":[5],"m":"2 months","s":"Prior x NN Model","x":0.2,"y":0.17},
{"c":[5],"m":"2 months","s":"Prior x NN Model","x":0.27,"y":0.205},
{"c":[5],"m":"2 months","s":"Prior x NN Model","x":0.337,"y":0.241},
{"c":[6],"m":"2 months","s":"Prior x NN Model","x":0.12,"y":0.135},
{"c":[6],"m":"2 months","s":"Prior x NN Model","x":0.2,"y":0.165},
{"c":[6],"m":"2 months","s":"Prior x NN Model","x":0.27,"y":0.195},
{"c":[6],"m":"2 months","s":"Prior x NN Model","x":0.337,"y":0.223},
{"c":[7,8],"m":"2 months","s":"Prior x NN Model","x":0.12,"y":0.13},
{"c":[7,8],"m":"2 months","s":"Prior x NN Model","x":0.2,"y":0.15},
{"c":[7,8],"m":"2 months","s":"Prior x NN Model","x":0.27,"y":0.175},
{"c":[7,8],"m":"2 months","s":"Prior x NN Model","x":0.337,"y":0.2},
{"c":[9],"m":"2 months","s":"Prior x NN Model","x":0.12,"y":0.125},
{"c":[9],"m":"2 months","s":"Prior x NN Model","x":0.2,"y":0.14},
{"c":[9],"m":"2 months","s":"Prior x NN Model","x":0.27,"y":0.15},
{"c":[9],"m":"2 months","s":"Prior x NN Model","x":0.337,"y":0.15},
{"c":[10,11,12],"m":"2 months","s":"Prior x NN Model","x":0.12,"y":0.135},
{"c":[10,11,12],"m":"2 months","s":"Prior x NN Model","x":0.2,"y":0.17},
{"c":[10,11,12],"m":"2 months","s":"Prior x NN Model","x":0.27,"y":0.21},
{"c":[10,11,12],"m":"2 months","s":"Prior x NN Model","x":0.337,"y":0.255},
{"c":[1,2,3,4,5,6],"m":"1 month","s":"Prior","x":-1.33,"y":0.147},
{"c":[1,2,3,4,5,6],"m":"1 month","s":"Prior","x":-0.94,"y":0.147},
{"c":[1,2,3,4,5,6],"m":"1 month","s":"Prior","x":-0.89,"y":0.147},
{"c":[1,2,3,4,5,6],"m":"1 month","s":"Prior","x":-0.83,"y":0.147},
{"c":[1,2,3,4,5,6],"m":"1 month","s":"Prior","x":-0.79,"y":0.147},
{"c":[1,2,3,4,5,6],"m":"1 month","s":"Prior","x":-0.75,"y":0.147},
{"c":[1,2,3,4,5,6],"m":"1 month","s":"Prior","x":-0.68,"y":0.147},
{"c":[1,2,3,4,5,6],"m":"1 month","s":"Prior","x":-0.65,"y":0.147},
{"c":[1,2,3,4,5,6],"m":"1 month","s":"Prior","x":-0.54,"y":0.147},
{"c":[1,2,3,4,5,6],"m":"1 month","s":"Prior","x":-0.49,"y":0.147},
{"c":[1,2,3,4,5,6],"m":"1 month","s":"Prior","x":-0.45,"y":0.147},
{"c":[1,2,3,4,5,6],"m":"1 month","s":"Prior","x":-0.4,"y":0.147},
{"c":[1,2,3,4,5,6],"m":"1 month","s":"Prior","x":-0.35,"y":0.147},
{"c":[1,2,3,4,5,6],"m":"1 month","s":"Prior","x":-0.3,"y":0.147},
{"c":[1,2,3,4,5,6],"m":"1 month","s":"Prior","x":-0.25,"y":0.147},
{"c":[1,2,3,4,5,6],"m":"1 month","s":"Prior","x":-0.2,"y":0.147},
{"c":[1,2,3,4,5,6],"m":"1 month","s":"Prior","x":-0.15,"y":0.147},
{"c":[1,2,3,4,5,6],"m":"1 month","s":"Prior","x":-0.1,"y":0.147},
{"c":[1,2,3,4,5,6],"m":"1 month","s":"Prior","x":-0.05,"y":0.147},
{"c":[1,2,3,4,5,6],"m":"1 month","s":"Prior","x":0,"y":0.147},
{"c":[1,2,3,4,5,6],"m":"1 month","s":"Prior","x":0.03,"y":0.147},
{"c":[1,2,3,4,5,6],"m":"1 month","s":"Prior","x":0.05,"y":0.147},
{"c":[1,2,3,4,5,6],"m":"1 month","s":"Prior","x":0.08,"y":0.147},
{"c":[1,2,3,4,5,6],"m":"1 month","s":"Prior","x":0.12,"y":0.147},
{"c":[1,2,3,4,5,6],"m":"1 month","s":"Prior","x":0.17,"y":0.147},
{"c":[1,2,3,4,5,6],"m":"1 month","s":"Prior","x":0.23,"y":0.147},
{"c":[1,2,3,4,5,6],"m":"1 month","s":"Prior","x":0.275,"y":0.147},
{"c":[1,2,3,4,5,6],"m":"1 year","s":"Prior","x":-0.88,"y":0.165},
{"c":[1,2,3,4,5,6],"m":"1 year","s":"Prior","x":-0.8,"y":0.165},
{"c":[1,2,3,4,5,6],"m":"1 year","s":"Prior","x":-0.7,"y":0.165},
{"c":[1,2,3,4,5,6],"m":"1 year","s":"Prior","x":-0.6,"y":0.165},
{"c":[1,2,3,4,5,6],"m":"1 year","s":"Prior","x":-0.5,"y":0.165},
{"c":[1,2,3,4,5,6],"m":"1 year","s":"Prior","x":-0.4,"y":0.165},
{"c":[1,2,3,4,5,6],"m":"1 year","s":"Prior","x":-0.3,"y":0.165},
{"c":[1,2,3,4,5,6],"m":"1 year","s":"Prior","x":-0.2,"y":0.165},
{"c":[1,2,3,4,5,6],"m":"1 year","s":"Prior","x":-0.1,"y":0.165},
{"c":[1,2,3,4,5,6],"m":"1 year","s":"Prior","x":0,"y":0.165},
{"c":[1,2,3,4,5,6],"m":"1 year","s":"Prior","x":0.08,"y":0.165},
{"c":[1,2,3,4,5,6],"m":"1 year","s":"Prior","x":0.15,"y":0.165},
{"c":[1,2,3,4,5,6],"m":"1 year","s":"Prior","x":0.2,"y":0.165},
{"c":[1,2,3,4,5,6],"m":"1 year","s":"Prior","x":0.26,"y":0.165},
{"c":[1,2,3,4,5,6],"m":"1 year","s":"Prior","x":0.32,"y":0.165},
{"c":[1,2,3,4,5,6],"m":"1 year","s":"Prior","x":0.37,"y":0.165},
{"c":[1,2,3,4,5,6],"m":"2 months","s":"Prior","x":-1.49,"y":0.15},
{"c":[1,2,3,4,5,6],"m":"2 months","s":"Prior","x":-1.27,"y":0.15},
{"c":[1,2,3,4,5,6],"m":"2 months","s":"Prior","x":-1.21,"y":0.15},
{"c":[1,2,3,4,5,6],"m":"2 months","s":"Prior","x":-1.12,"y":0.15},
{"c":[1,2,3,4,5,6],"m":"2 months","s":"Prior","x":-1.035,"y":0.15},
{"c":[1,2,3,4,5,6],"m":"2 months","s":"Prior","x":-0.91,"y":0.15},
{"c":[1,2,3,4,5,6],"m":"2 months","s":"Prior","x":-0.8,"y":0.15},
{"c":[1,2,3,4,5,6],"m":"2 months","s":"Prior","x":-0.7,"y":0.15},
{"c":[1,2,3,4,5,6],"m":"2 months","s":"Prior","x":-0.6,"y":0.15},
{"c":[1,2,3,4,5,6],"m":"2 months","s":"Prior","x":-0.5,"y":0.15},
{"c":[1,2,3,4,5,6],"m":"2 months","s":"Prior","x":-0.4,"y":0.15},
{"c":[1,2,3,4,5,6],"m":"2 months","s":"Prior","x":-0.3,"y":0.15},
{"c":[1,2,3,4,5,6],"m":"2 months","s":"Prior","x":-0.2,"y":0.15},
{"c":[1,2,3,4,5,6],"m":"2 months","s":"Prior","x":-0.1,"y":0.15},
{"c":[1,2,3,4,5,6],"m":"2 months","s":"Prior","x":0,"y":0.15},
{"c":[1,2,3,4,5,6],"m":"2 months","s":"Prior","x":0.04,"y":0.15},
{"c":[1,2,3,4,5,6],"m":"2 months","s":"Prior","x":0.07,"y":0.15},
{"c":[1,2,3,4,5,6],"m":"2 months","s":"Prior","x":0.12,"y":0.15},
{"c":[1,2,3,4,5,6],"m":"2 months","s":"Prior","x":0.2,"y":0.15},
{"c":[1,2,3,4,5,6],"m":"2 months","s":"Prior","x":0.27,"y":0.15},
{"c":[1,2,3,4,5,6],"m":"2 months","s":"Prior","x":0.337,"y":0.15},
{"c":[1,2,3,4,5,6],"m":"2 years","s":"Prior","x":-1.5,"y":0.172},
{"c":[1,2,3,4,5,6],"m":"2 years","s":"Prior","x":-1.45,"y":0.172},
{"c":[1,2,3,4,5,6],"m":"2 years","s":"Prior","x":-1.33,"y":0.172},
{"c":[1,2,3,4,5,6],"m":"2 years","s":"Prior","x":-1.2,"y":0.172},
{"c":[1,2,3,4,5,6],"m":"2 years","s":"Prior","x":-1,"y":0.172},
{"c":[1,2,3,4,5,6],"m":"2 years","s":"Prior","x":-0.8,"y":0.172},
{"c":[1,2,3,4,5,6],"m":"2 years","s":"Prior","x":-0.7,"y":0.172},
{"c":[1,2,3,4,5,6],"m":"2 years","s":"Prior","x":-0.6,"y":0.172},
{"c":[1,2,3,4,5,6],"m":"2 years","s":"Prior","x":-0.5,"y":0.172},
{"c":[1,2,3,4,5,6],"m":"2 years","s":"Prior","x":-0.45,"y":0.172},
{"c":[1,2,3,4,5,6],"m":"2 years","s":"Prior","x":-0.4,"y":0.172},
{"c":[1,2,3,4,5,6],"m":"2 years","s":"Prior","x":-0.35,"y":0.172},
{"c":[1,2,3,4,5,6],"m":"2 years","s":"Prior","x":-0.3,"y":0.172},
{"c":[1,2,3,4,5,6],"m":"2 years","s":"Prior","x":-0.25,"y":0.172},
{"c":[1,2,3,4,5,6],"m":"2 years","s":"Prior","x":-0.2,"y":0.172},
{"c":[1,2,3,4,5,6],"m":"2 years","s":"Prior","x":-0.15,"y":0.172},
{"c":[1,2,3,4,5,6],"m":"2 years","s":"Prior","x":-0.1,"y":0.172},
{"c":[1,2,3,4,5,6],"m":"2 years","s":"Prior","x":-0.05,"y":0.172},
{"c":[1,2,3,4,5,6],"m":"2 years","s":"Prior","x":0,"y":0.172},
{"c":[1,2,3,4,5,6],"m":"2 years","s":"Prior","x":0.1,"y":0.172},
{"c":[1,2,3,4,5,6],"m":"2 years","s":"Prior","x":0.2,"y":0.172},
{"c":[1,2,3,4,5,6],"m":"2 years","s":"Prior","x":0.3,"y":0.172},
{"c":[1,2,3,4,5,6],"m":"2 years","s":"Prior","x":0.41,"y":0.172},
{"c":[7],"m":"1 month","s":"Prior","x":-1.33,"y":0.745},
{"c":[7],"m":"1 month","s":"Prior","x":-1.15,"y":0.7},
{"c":[7],"m":"1 month","s":"Prior","x":-1,"y":0.655},
{"c":[7],"m":"1 month","s":"Prior","x":-0.85,"y":0.61},
{"c":[7],"m":"1 month","s":"Prior","x":-0.73,"y":0.566},
{"c":[7],"m":"1 month","s":"Prior","x":-0.6,"y":0.52},
{"c":[7],"m":"1 month","s":"Prior","x":-0.5,"y":0.468},
{"c":[7],"m":"1 month","s":"Prior","x":-0.4,"y":0.415},
{"c":[7],"m":"1 month","s":"Prior","x":-0.3,"y":0.36},
{"c":[7],"m":"1 month","s":"Prior","x":-0.2,"y":0.3},
{"c":[7],"m":"1 month","s":"Prior","x":-0.1,"y":0.235},
{"c":[7],"m":"1 month","s":"Prior","x":0,"y":0.165},
{"c":[7],"m":"1 month","s":"Prior","x":0.05,"y":0.13},
{"c":[7],"m":"1 month","s":"Prior","x":0.1,"y":0.14},
{"c":[7],"m":"1 month","s":"Prior","x":0.2,"y":0.18},
{"c":[7],"m":"1 month","s":"Prior","x":0.275,"y":0.218},
{"c":[8],"m":"1 month","s":"Prior","x":-1.33,"y":0.777},
{"c":[8],"m":"1 month","s":"Prior","x":-1.15,"y":0.735},
{"c":[8],"m":"1 month","s":"Prior","x":-1,"y":0.69},
{"c":[8],"m":"1 month","s":"Prior","x":-0.85,"y":0.635},
{"c":[8],"m":"1 month","s":"Prior","x":-0.69,"y":0.584},
{"c":[8],"m":"1 month","s":"Prior","x":-0.6,"y":0.55},
{"c":[8],"m":"1 month","s":"Prior","x":-0.45,"y":0.459},
{"c":[8],"m":"1 month","s":"Prior","x":-0.35,"y":0.4},
{"c":[8],"m":"1 month","s":"Prior","x":-0.22,"y":0.316},
{"c":[8],"m":"1 month","s":"Prior","x":-0.1,"y":0.23},
{"c":[8],"m":"1 month","s":"Prior","x":0,"y":0.16},
{"c":[8],"m":"1 month","s":"Prior","x":0.04,"y":0.125},
{"c":[8],"m":"1 month","s":"Prior","x":0.1,"y":0.14},
{"c":[8],"m":"1 month","s":"Prior","x":0.2,"y":0.185},
{"c":[8],"m":"1 month","s":"Prior","x":0.275,"y":0.218},
{"c":[9],"m":"1 month","s":"Prior","x":-1.33,"y":0.68},
{"c":[9],"m":"1 month","s":"Prior","x":-1.15,"y":0.635},
{"c":[9],"m":"1 month","s":"Prior","x":-1,"y":0.586},
{"c":[9],"m":"1 month","s":"Prior","x":-0.85,"y":0.535},
{"c":[9],"m":"1 month","s":"Prior","x":-0.73,"y":0.496},
{"c":[9],"m":"1 month","s":"Prior","x":-0.6,"y":0.46},
{"c":[9],"m":"1 month","s":"Prior","x":-0.5,"y":0.425},
{"c":[9],"m":"1 month","s":"Prior","x":-0.4,"y":0.375},
{"c":[9],"m":"1 month","s":"Prior","x":-0.27,"y":0.3},
{"c":[9],"m":"1 month","s":"Prior","x":-0.15,"y":0.225},
{"c":[9],"m":"1 month","s":"Prior","x":-0.05,"y":0.16},
{"c":[9],"m":"1 month","s":"Prior","x":0.04,"y":0.115},
{"c":[9],"m":"1 month","s":"Prior","x":0.1,"y":0.13},
{"c":[9],"m":"1 month","s":"Prior","x":0.2,"y":0.165},
{"c":[9],"m":"1 month","s":"Prior","x":0.275,"y":0.184},
{"c":[10],"m":"1 month","s":"Prior","x":-1.33,"y":0.834},
{"c":[10],"m":"1 month","s":"Prior","x":-0.94,"y":0.7},
{"c":[10],"m":"1 month","s":"Prior","x":-0.89,"y":0.685},
{"c":[10],"m":"1 month","s":"Prior","x":-0.83,"y":0.665},
{"c":[10],"m":"1 month","s":"Prior","x":-0.79,"y":0.645},
{"c":[10],"m":"1 month","s":"Prior","x":-0.75,"y":0.63},
{"c":[10],"m":"1 month","s":"Prior","x":-0.68,"y":0.595},
{"c":[10],"m":"1 month","s":"Prior","x":-0.65,"y":0.58},
{"c":[10],"m":"1 month","s":"Prior","x":-0.54,"y":0.535},
{"c":[10],"m":"1 month","s":"Prior","x":-0.49,"y":0.51},
{"c":[10],"m":"1 month","s":"Prior","x":-0.45,"y":0.494},
{"c":[10],"m":"1 month","s":"Prior","x":-0.4,"y":0.47},
{"c":[10],"m":"1 month","s":"Prior","x":-0.35,"y":0.445},
{"c":[10],"m":"1 month","s":"Prior","x":-0.3,"y":0.415},
{"c":[10],"m":"1 month","s":"Prior","x":-0.25,"y":0.373},
{"c":[10],"m":"1 month","s":"Prior","x":-0.2,"y":0.333},
{"c":[10],"m":"1 month","s":"Prior","x":-0.15,"y":0.29},
{"c":[10],"m":"1 month","s":"Prior","x":-0.1,"y":0.245},
{"c":[10],"m":"1 month","s":"Prior","x":-0.05,"y":0.195},
{"c":[10],"m":"1 month","s":"Prior","x":0,"y":0.15},
{"c":[10],"m":"1 month","s":"Prior","x":0.03,"y":0.128},
{"c":[10],"m":"1 month","s":"Prior","x":0.05,"y":0.13},
{"c":[10],"m":"1 month","s":"Prior","x":0.08,"y":0.135},
{"c":[10],"m":"1 month","s":"Prior","x":0.12,"y":0.15},
{"c":[10],"m":"1 month","s":"Prior","x":0.17,"y":0.17},
{"c":[10],"m":"1 month","s":"Prior","x":0.23,"y":0.185},
{"c":[10],"m":"1 month","s":"Prior","x":0.275,"y":0.199},
{"c":[11],"m":"1 month","s":"Prior","x":-1.33,"y":0.857},
{"c":[11],"m":"1 month","s":"Prior","x":-0.94,"y":0.724},
{"c":[11],"m":"1 month","s":"Prior","x":-0.89,"y":0.7},
{"c":[11],"m":"1 month","s":"Prior","x":-0.83,"y":0.675},
{"c":[11],"m":"1 month","s":"Prior","x":-0.79,"y":0.655},
{"c":[11],"m":"1 month","s":"Prior","x":-0.75,"y":0.64},
{"c":[11],"m":"1 month","s":"Prior","x":-0.68,"y":0.61},
{"c":[11],"m":"1 month","s":"Prior","x":-0.65,"y":0.595},
{"c":[11],"m":"1 month","s":"Prior","x":-0.54,"y":0.53},
{"c":[11],"m":"1 month","s":"Prior","x":-0.49,"y":0.49},
{"c":[11],"m":"1 month","s":"Prior","x":-0.45,"y":0.465},
{"c":[11],"m":"1 month","s":"Prior","x":-0.4,"y":0.435},
{"c":[11],"m":"1 month","s":"Prior","x":-0.35,"y":0.405},
{"c":[11],"m":"1 month","s":"Prior","x":-0.3,"y":0.37},
{"c":[11],"m":"1 month","s":"Prior","x":-0.25,"y":0.33},
{"c":[11],"m":"1 month","s":"Prior","x":-0.2,"y":0.29},
{"c":[11],"m":"1 month","s":"Prior","x":-0.15,"y":0.25},
{"c":[11],"m":"1 month","s":"Prior","x":-0.1,"y":0.205},
{"c":[11],"m":"1 month","s":"Prior","x":-0.05,"y":0.16},
{"c":[11],"m":"1 month","s":"Prior","x":0,"y":0.13},
{"c":[11],"m":"1 month","s":"Prior","x":0.03,"y":0.115},
{"c":[11],"m":"1 month","s":"Prior","x":0.05,"y":0.12},
{"c":[11],"m":"1 month","s":"Prior","x":0.08,"y":0.135},
{"c":[11],"m":"1 month","s":"Prior","x":0.12,"y":0.15},
{"c":[11],"m":"1 month","s":"Prior","x":0.17,"y":0.17},
{"c":[11],"m":"1 month","s":"Prior","x":0.23,"y":0.19},
{"c":[11],"m":"1 month","s":"Prior","x":0.275,"y":0.2},
{"c":[12],"m":"1 month","s":"Prior","x":-1.33,"y":0.782},
{"c":[12],"m":"1 month","s":"Prior","x":-0.94,"y":0.665},
{"c":[12],"m":"1 month","s":"Prior","x":-0.89,"y":0.65},
{"c":[12],"m":"1 month","s":"Prior","x":-0.83,"y":0.63},
{"c":[12],"m":"1 month","s":"Prior","x":-0.79,"y":0.615},
{"c":[12],"m":"1 month","s":"Prior","x":-0.75,"y":0.6},
{"c":[12],"m":"1 month","s":"Prior","x":-0.68,"y":0.575},
{"c":[12],"m":"1 month","s":"Prior","x":-0.65,"y":0.562},
{"c":[12],"m":"1 month","s":"Prior","x":-0.54,"y":0.52},
{"c":[12],"m":"1 month","s":"Prior","x":-0.49,"y":0.5},
{"c":[12],"m":"1 month","s":"Prior","x":-0.45,"y":0.48},
{"c":[12],"m":"1 month","s":"Prior","x":-0.4,"y":0.455},
{"c":[12],"m":"1 month","s":"Prior","x":-0.35,"y":0.44},
{"c":[12],"m":"1 month","s":"Prior","x":-0.3,"y":0.42},
{"c":[12],"m":"1 month","s":"Prior","x":-0.25,"y":0.38},
{"c":[12],"m":"1 month","s":"Prior","x":-0.2,"y":0.335},
{"c":[12],"m":"1 month","s":"Prior","x":-0.15,"y":0.29},
{"c":[12],"m":"1 month","s":"Prior","x":-0.1,"y":0.24},
{"c":[12],"m":"1 month","s":"Prior","x":-0.05,"y":0.19},
{"c":[12],"m":"1 month","s":"Prior","x":0,"y":0.14},
{"c":[12],"m":"1 month","s":"Prior","x":0.03,"y":0.115},
{"c":[12],"m":"1 month","s":"Prior","x":0.05,"y":0.112},
{"c":[12],"m":"1 month","s":"Prior","x":0.08,"y":0.125},
{"c":[12],"m":"1 month","s":"Prior","x":0.12,"y":0.14},
{"c":[12],"m":"1 month","s":"Prior","x":0.17,"y":0.16},
{"c":[12],"m":"1 month","s":"Prior","x":0.23,"y":0.178},
{"c":[12],"m":"1 month","s":"Prior","x":0.275,"y":0.189},
{"c":[7],"m":"1 year","s":"Prior","x":-0.88,"y":0.321},
{"c":[7],"m":"1 year","s":"Prior","x":-0.7,"y":0.29},
{"c":[7],"m":"1 year","s":"Prior","x":-0.5,"y":0.26},
{"c":[7],"m":"1 year","s":"Prior","x":-0.3,"y":0.225},
{"c":[7],"m":"1 year","s":"Prior","x":-0.1,"y":0.19},
{"c":[7],"m":"1 year","s":"Prior","x":0.05,"y":0.16},
{"c":[7],"m":"1 year","s":"Prior","x":0.15,"y":0.15},
{"c":[7],"m":"1 year","s":"Prior","x":0.25,"y":0.15},
{"c":[7],"m":"1 year","s":"Prior","x":0.37,"y":0.155},
{"c":[8],"m":"1 year","s":"Prior","x":-0.88,"y":0.343},
{"c":[8],"m":"1 year","s":"Prior","x":-0.7,"y":0.305},
{"c":[8],"m":"1 year","s":"Prior","x":-0.5,"y":0.265},
{"c":[8],"m":"1 year","s":"Prior","x":-0.3,"y":0.225},
{"c":[8],"m":"1 year","s":"Prior","x":-0.1,"y":0.185},
{"c":[8],"m":"1 year","s":"Prior","x":0.08,"y":0.155},
{"c":[8],"m":"1 year","s":"Prior","x":0.2,"y":0.15},
{"c":[8],"m":"1 year","s":"Prior","x":0.3,"y":0.15},
{"c":[8],"m":"1 year","s":"Prior","x":0.37,"y":0.155},
{"c":[9],"m":"1 year","s":"Prior","x":-0.88,"y":0.295},
{"c":[9],"m":"1 year","s":"Prior","x":-0.7,"y":0.27},
{"c":[9],"m":"1 year","s":"Prior","x":-0.5,"y":0.24},
{"c":[9],"m":"1 year","s":"Prior","x":-0.3,"y":0.21},
{"c":[9],"m":"1 year","s":"Prior","x":-0.1,"y":0.18},
{"c":[9],"m":"1 year","s":"Prior","x":0.05,"y":0.155},
{"c":[9],"m":"1 year","s":"Prior","x":0.2,"y":0.145},
{"c":[9],"m":"1 year","s":"Prior","x":0.3,"y":0.14},
{"c":[9],"m":"1 year","s":"Prior","x":0.37,"y":0.143},
{"c":[10],"m":"1 year","s":"Prior","x":-0.88,"y":0.354},
{"c":[10],"m":"1 year","s":"Prior","x":-0.7,"y":0.32},
{"c":[10],"m":"1 year","s":"Prior","x":-0.5,"y":0.28},
{"c":[10],"m":"1 year","s":"Prior","x":-0.3,"y":0.24},
{"c":[10],"m":"1 year","s":"Prior","x":-0.1,"y":0.195},
{"c":[10],"m":"1 year","s":"Prior","x":0.05,"y":0.155},
{"c":[10],"m":"1 year","s":"Prior","x":0.15,"y":0.135},
{"c":[10],"m":"1 year","s":"Prior","x":0.25,"y":0.128},
{"c":[10],"m":"1 year","s":"Prior","x":0.37,"y":0.13},
{"c":[11],"m":"1 year","s":"Prior","x":-0.88,"y":0.334},
{"c":[11],"m":"1 year","s":"Prior","x":-0.7,"y":0.305},
{"c":[11],"m":"1 year","s":"Prior","x":-0.58,"y":0.286},
{"c":[11],"m":"1 year","s":"Prior","x":-0.4,"y":0.25},
{"c":[11],"m":"1 year","s":"Prior","x":-0.2,"y":0.21},
{"c":[11],"m":"1 year","s":"Prior","x":0,"y":0.163},
{"c":[11],"m":"1 year","s":"Prior","x":0.16,"y":0.138},
{"c":[11],"m":"1 year","s":"Prior","x":0.28,"y":0.135},
{"c":[11],"m":"1 year","s":"Prior","x":0.39,"y":0.143},
{"c":[12],"m":"1 year","s":"Prior","x":-0.88,"y":0.309},
{"c":[12],"m":"1 year","s":"Prior","x":-0.7,"y":0.285},
{"c":[12],"m":"1 year","s":"Prior","x":-0.5,"y":0.255},
{"c":[12],"m":"1 year","s":"Prior","x":-0.3,"y":0.22},
{"c":[12],"m":"1 year","s":"Prior","x":-0.1,"y":0.18},
{"c":[12],"m":"1 year","s":"Prior","x":0.08,"y":0.145},
{"c":[12],"m":"1 year","s":"Prior","x":0.2,"y":0.135},
{"c":[12],"m":"1 year","s":"Prior","x":0.3,"y":0.135},
{"c":[12],"m":"1 year","s":"Prior","x":0.37,"y":0.148},
{"c":[7],"m":"2 months","s":"Prior","x":-1.49,"y":0.629},
{"c":[7],"m":"2 months","s":"Prior","x":-1.3,"y":0.59},
{"c":[7],"m":"2 months","s":"Prior","x":-1.1,"y":0.55},
{"c":[7],"m":"2 months","s":"Prior","x":-1,"y":0.53},
{"c":[7],"m":"2 months","s":"Prior","x":-0.8,"y":0.48},
{"c":[7],"m":"2 months","s":"Prior","x":-0.6,"y":0.42},
{"c":[7],"m":"2 months","s":"Prior","x":-0.5,"y":0.388},
{"c":[7],"m":"2 months","s":"Prior","x":-0.4,"y":0.35},
{"c":[7],"m":"2 months","s":"Prior","x":-0.24,"y":0.28},
{"c":[7],"m":"2 months","s":"Prior","x":-0.1,"y":0.21},
{"c":[7],"m":"2 months","s":"Prior","x":0,"y":0.16},
{"c":[7],"m":"2 months","s":"Prior","x":0.07,"y":0.135},
{"c":[7],"m":"2 months","s":"Prior","x":0.15,"y":0.145},
{"c":[7],"m":"2 months","s":"Prior","x":0.25,"y":0.17},
{"c":[7],"m":"2 months","s":"Prior","x":0.337,"y":0.195},
{"c":[8],"m":"2 months","s":"Prior","x":-1.48,"y":0.655},
{"c":[8],"m":"2 months","s":"Prior","x":-1.3,"y":0.62},
{"c":[8],"m":"2 months","s":"Prior","x":-1.1,"y":0.585},
{"c":[8],"m":"2 months","s":"Prior","x":-1,"y":0.566},
{"c":[8],"m":"2 months","s":"Prior","x":-0.8,"y":0.51},
{"c":[8],"m":"2 months","s":"Prior","x":-0.66,"y":0.459},
{"c":[8],"m":"2 months","s":"Prior","x":-0.5,"y":0.39},
{"c":[8],"m":"2 months","s":"Prior","x":-0.37,"y":0.316},
{"c":[8],"m":"2 months","s":"Prior","x":-0.2,"y":0.24},
{"c":[8],"m":"2 months","s":"Prior","x":-0.1,"y":0.195},
{"c":[8],"m":"2 months","s":"Prior","x":0,"y":0.15},
{"c":[8],"m":"2 months","s":"Prior","x":0.04,"y":0.138},
{"c":[8],"m":"2 months","s":"Prior","x":0.15,"y":0.15},
{"c":[8],"m":"2 months","s":"Prior","x":0.25,"y":0.175},
{"c":[8],"m":"2 months","s":"Prior","x":0.326,"y":0.2},
{"c":[9],"m":"2 months","s":"Prior","x":-1.49,"y":0.568},
{"c":[9],"m":"2 months","s":"Prior","x":-1.3,"y":0.53},
{"c":[9],"m":"2 months","s":"Prior","x":-1.1,"y":0.49},
{"c":[9],"m":"2 months","s":"Prior","x":-1,"y":0.47},
{"c":[9],"m":"2 months","s":"Prior","x":-0.8,"y":0.42},
{"c":[9],"m":"2 months","s":"Prior","x":-0.65,"y":0.371},
{"c":[9],"m":"2 months","s":"Prior","x":-0.5,"y":0.325},
{"c":[9],"m":"2 months","s":"Prior","x":-0.36,"y":0.282},
{"c":[9],"m":"2 months","s":"Prior","x":-0.2,"y":0.22},
{"c":[9],"m":"2 months","s":"Prior","x":-0.1,"y":0.18},
{"c":[9],"m":"2 months","s":"Prior","x":0,"y":0.14},
{"c":[9],"m":"2 months","s":"Prior","x":0.07,"y":0.121},
{"c":[9],"m":"2 months","s":"Prior","x":0.15,"y":0.135},
{"c":[9],"m":"2 months","s":"Prior","x":0.25,"y":0.155},
{"c":[9],"m":"2 months","s":"Prior","x":0.337,"y":0.166},
{"c":[10],"m":"2 months","s":"Prior","x":-1.49,"y":0.695},
{"c":[10],"m":"2 months","s":"Prior","x":-1.27,"y":0.645},
{"c":[10],"m":"2 months","s":"Prior","x":-1.21,"y":0.632},
{"c":[10],"m":"2 months","s":"Prior","x":-1.12,"y":0.612},
{"c":[10],"m":"2 months","s":"Prior","x":-1.035,"y":0.592},
{"c":[10],"m":"2 months","s":"Prior","x":-0.91,"y":0.56},
{"c":[10],"m":"2 months","s":"Prior","x":-0.8,"y":0.53},
{"c":[10],"m":"2 months","s":"Prior","x":-0.7,"y":0.5},
{"c":[10],"m":"2 months","s":"Prior","x":-0.6,"y":0.47},
{"c":[10],"m":"2 months","s":"Prior","x":-0.5,"y":0.435},
{"c":[10],"m":"2 months","s":"Prior","x":-0.4,"y":0.395},
{"c":[10],"m":"2 months","s":"Prior","x":-0.3,"y":0.35},
{"c":[10],"m":"2 months","s":"Prior","x":-0.2,"y":0.295},
{"c":[10],"m":"2 months","s":"Prior","x":-0.1,"y":0.235},
{"c":[10],"m":"2 months","s":"Prior","x":0,"y":0.165},
{"c":[10],"m":"2 months","s":"Prior","x":0.04,"y":0.13},
{"c":[10],"m":"2 months","s":"Prior","x":0.07,"y":0.121},
{"c":[10],"m":"2 months","s":"Prior","x":0.12,"y":0.13},
{"c":[10],"m":"2 months","s":"Prior","x":0.2,"y":0.15},
{"c":[10],"m":"2 months","s":"Prior","x":0.27,"y":0.17},
{"c":[10],"m":"2 months","s":"Prior","x":0.337,"y":0.184},
{"c":[11],"m":"2 months","s":"Prior","x":-1.49,"y":0.7},
{"c":[11],"m":"2 months","s":"Prior","x":-1.27,"y":0.64},
{"c":[11],"m":"2 months","s":"Prior","x":-1.21,"y":0.625},
{"c":[11],"m":"2 months","s":"Prior","x":-1.12,"y":0.6},
{"c":[11],"m":"2 months","s":"Prior","x":-1.035,"y":0.575},
{"c":[11],"m":"2 months","s":"Prior","x":-0.91,"y":0.54},
{"c":[11],"m":"2 months","s":"Prior","x":-0.8,"y":0.51},
{"c":[11],"m":"2 months","s":"Prior","x":-0.7,"y":0.46},
{"c":[11],"m":"2 months","s":"Prior","x":-0.6,"y":0.42},
{"c":[11],"m":"2 months","s":"Prior","x":-0.5,"y":0.375},
{"c":[11],"m":"2 months","s":"Prior","x":-0.4,"y":0.33},
{"c":[11],"m":"2 months","s":"Prior","x":-0.3,"y":0.28},
{"c":[11],"m":"2 months","s":"Prior","x":-0.2,"y":0.232},
{"c":[11],"m":"2 months","s":"Prior","x":-0.1,"y":0.18},
{"c":[11],"m":"2 months","s":"Prior","x":0,"y":0.13},
{"c":[11],"m":"2 months","s":"Prior","x":0.04,"y":0.113},
{"c":[11],"m":"2 months","s":"Prior","x":0.07,"y":0.112},
{"c":[11],"m":"2 months","s":"Prior","x":0.12,"y":0.125},
{"c":[11],"m":"2 months","s":"Prior","x":0.2,"y":0.145},
{"c":[11],"m":"2 months","s":"Prior","x":0.27,"y":0.165},
{"c":[11],"m":"2 months","s":"Prior","x":0.337,"y":0.184},
{"c":[12],"m":"2 months","s":"Prior","x":-1.49,"y":0.639},
{"c":[12],"m":"2 months","s":"Prior","x":-1.27,"y":0.59},
{"c":[12],"m":"2 months","s":"Prior","x":-1.21,"y":0.578},
{"c":[12],"m":"2 months","s":"Prior","x":-1.12,"y":0.56},
{"c":[12],"m":"2 months","s":"Prior","x":-1.035,"y":0.543},
{"c":[12],"m":"2 months","s":"Prior","x":-0.91,"y":0.515},
{"c":[12],"m":"2 months","s":"Prior","x":-0.8,"y":0.49},
{"c":[12],"m":"2 months","s":"Prior","x":-0.7,"y":0.463},
{"c":[12],"m":"2 months","s":"Prior","x":-0.6,"y":0.432},
{"c":[12],"m":"2 months","s":"Prior","x":-0.5,"y":0.395},
{"c":[12],"m":"2 months","s":"Prior","x":-0.4,"y":0.355},
{"c":[12],"m":"2 months","s":"Prior","x":-0.3,"y":0.312},
{"c":[12],"m":"2 months","s":"Prior","x":-0.2,"y":0.265},
{"c":[12],"m":"2 months","s":"Prior","x":-0.1,"y":0.21},
{"c":[12],"m":"2 months","s":"Prior","x":0,"y":0.15},
{"c":[12],"m":"2 months","s":"Prior","x":0.04,"y":0.12},
{"c":[12],"m":"2 months","s":"Prior","x":0.07,"y":0.112},
{"c":[12],"m":"2 months","s":"Prior","x":0.12,"y":0.12},
{"c":[12],"m":"2 months","s":"Prior","x":0.2,"y":0.14},
{"c":[12],"m":"2 months","s":"Prior","x":0.27,"y":0.155},
{"c":[12],"m":"2 months","s":"Prior","x":0.337,"y":0.166},
{"c":[7],"m":"2 years","s":"Prior","x":-1.5,"y":0.36},
{"c":[7],"m":"2 years","s":"Prior","x":-1.2,"y":0.32},
{"c":[7],"m":"2 years","s":"Prior","x":-0.9,"y":0.285},
{"c":[7],"m":"2 years","s":"Prior","x":-0.6,"y":0.25},
{"c":[7],"m":"2 years","s":"Prior","x":-0.3,"y":0.21},
{"c":[7],"m":"2 years","s":"Prior","x":0,"y":0.17},
{"c":[7],"m":"2 years","s":"Prior","x":0.2,"y":0.155},
{"c":[7],"m":"2 years","s":"Prior","x":0.41,"y":0.155},
{"c":[8],"m":"2 years","s":"Prior","x":-1.5,"y":0.373},
{"c":[8],"m":"2 years","s":"Prior","x":-1.2,"y":0.335},
{"c":[8],"m":"2 years","s":"Prior","x":-0.9,"y":0.295},
{"c":[8],"m":"2 years","s":"Prior","x":-0.6,"y":0.255},
{"c":[8],"m":"2 years","s":"Prior","x":-0.3,"y":0.21},
{"c":[8],"m":"2 years","s":"Prior","x":0,"y":0.165},
{"c":[8],"m":"2 years","s":"Prior","x":0.2,"y":0.155},
{"c":[8],"m":"2 years","s":"Prior","x":0.41,"y":0.155},
{"c":[9],"m":"2 years","s":"Prior","x":-1.5,"y":0.318},
{"c":[9],"m":"2 years","s":"Prior","x":-1.2,"y":0.29},
{"c":[9],"m":"2 years","s":"Prior","x":-0.9,"y":0.265},
{"c":[9],"m":"2 years","s":"Prior","x":-0.6,"y":0.235},
{"c":[9],"m":"2 years","s":"Prior","x":-0.3,"y":0.2},
{"c":[9],"m":"2 years","s":"Prior","x":0,"y":0.17},
{"c":[9],"m":"2 years","s":"Prior","x":0.2,"y":0.155},
{"c":[9],"m":"2 years","s":"Prior","x":0.41,"y":0.148},
{"c":[10],"m":"2 years","s":"Prior","x":-1.5,"y":0.388},
{"c":[10],"m":"2 years","s":"Prior","x":-1.2,"y":0.345},
{"c":[10],"m":"2 years","s":"Prior","x":-0.9,"y":0.305},
{"c":[10],"m":"2 years","s":"Prior","x":-0.6,"y":0.263},
{"c":[10],"m":"2 years","s":"Prior","x":-0.3,"y":0.215},
{"c":[10],"m":"2 years","s":"Prior","x":0,"y":0.168},
{"c":[10],"m":"2 years","s":"Prior","x":0.2,"y":0.14},
{"c":[10],"m":"2 years","s":"Prior","x":0.41,"y":0.135},
{"c":[11],"m":"2 years","s":"Prior","x":-1.5,"y":0.362},
{"c":[11],"m":"2 years","s":"Prior","x":-1.2,"y":0.325},
{"c":[11],"m":"2 years","s":"Prior","x":-0.9,"y":0.29},
{"c":[11],"m":"2 years","s":"Prior","x":-0.6,"y":0.255},
{"c":[11],"m":"2 years","s":"Prior","x":-0.3,"y":0.215},
{"c":[11],"m":"2 years","s":"Prior","x":0,"y":0.17},
{"c":[11],"m":"2 years","s":"Prior","x":0.2,"y":0.148},
{"c":[11],"m":"2 years","s":"Prior","x":0.41,"y":0.139},
{"c":[12],"m":"2 years","s":"Prior","x":-1.5,"y":0.336},
{"c":[12],"m":"2 years","s":"Prior","x":-1.2,"y":0.305},
{"c":[12],"m":"2 years","s":"Prior","x":-0.9,"y":0.275},
{"c":[12],"m":"2 years","s":"Prior","x":-0.6,"y":0.245},
{"c":[12],"m":"2 years","s":"Prior","x":-0.3,"y":0.21},
{"c":[12],"m":"2 years","s":"Prior","x":0,"y":0.17},
{"c":[12],"m":"2 years","s":"Prior","x":0.2,"y":0.15},
{"c":[12],"m":"2 years","s":"Prior","x":0.41,"y":0.139}
]},
"transform":[
{"flatten":["c"]},
{"calculate":"'Sce. ' + datum.c + ', ' + datum.m","as":"panel"}
],
"facet":{"field":"panel","type":"nominal","sort":["Sce. 1, 1 month","Sce. 1, 1 year","Sce. 1, 2 months","Sce. 1, 2 years","Sce. 2, 1 month","Sce. 2, 1 year","Sce. 2, 2 months","Sce. 2, 2 years","Sce. 3, 1 month","Sce. 3, 1 year","Sce. 3, 2 months","Sce. 3, 2 years","Sce. 4, 1 month","Sce. 4, 1 year","Sce. 4, 2 months","Sce. 4, 2 years","Sce. 5, 1 month","Sce. 5, 1 year","Sce. 5, 2 months","Sce. 5, 2 years","Sce. 6, 1 month","Sce. 6, 1 year","Sce. 6, 2 months","Sce. 6, 2 years","Sce. 7, 1 month","Sce. 7, 1 year","Sce. 7, 2 months","Sce. 7, 2 years","Sce. 8, 1 month","Sce. 8, 1 year","Sce. 8, 2 months","Sce. 8, 2 years","Sce. 9, 1 month","Sce. 9, 1 year","Sce. 9, 2 months","Sce. 9, 2 years","Sce. 10, 1 month","Sce. 10, 1 year","Sce. 10, 2 months","Sce. 10, 2 years","Sce. 11, 1 month","Sce. 11, 1 year","Sce. 11, 2 months","Sce. 11, 2 years","Sce. 12, 1 month","Sce. 12, 1 year","Sce. 12, 2 months","Sce. 12, 2 years"],"header":{"title":"Log−Moneyness","titleOrient":"bottom","titleFontSize":23,"titleColor":"#000000","titleFontWeight":"normal","titlePadding":8,"labelOrient":"top","labelFontSize":18,"labelColor":"#1A1A1A","labelPadding":6}},
"columns":8,
"spacing":{"row":22,"column":12},
"spec":{
"width":166,"height":273,
"encoding":{
"x":{"field":"x","type":"quantitative","scale":{"domain":[-1.59,0.5],"nice":false,"zero":false},"axis":{"title":null,"values":[-1.5,-1,-0.5,0,0.5],"labelExpr":"datum.value % 1 === 0 ? format(datum.value, 'd') : ''","gridWidth":{"condition":{"test":"datum.value % 1 === 0","value":1.8},"value":0.9},"labelPadding":10}},
"y":{"field":"y","type":"quantitative","scale":{"domain":[0.032,1.497],"nice":false,"zero":false},"axis":{"title":null,"values":[0.25,0.5,0.75,1,1.25],"labelExpr":"datum.value === 0.5 || datum.value === 1 ? format(datum.value, '.1f') : ''","gridWidth":{"condition":{"test":"datum.value === 0.5 || datum.value === 1","value":1.8},"value":0.9},"labelPadding":12}},
"color":{"field":"s","type":"nominal","scale":{"domain":["Data","Prior","Prior x NN Model"],"range":["#F8766D","#00BA38","#619CFF"]},"legend":{"title":"Data / Model","orient":"none","legendX":511,"legendY":1958,"direction":"horizontal","titleOrient":"left","titlePadding":8,"symbolType":"M-1,0H1M-0.14,0A0.14,0.14 0 1,0 0.14,0A0.14,0.14 0 1,0 -0.14,0Z","symbolSize":1225,"symbolStrokeWidth":2.5,"labelOffset":10,"columnPadding":10}}
},
"layer":[
{"mark":{"type":"line","strokeWidth":2}},
{"mark":{"type":"circle","size":20,"opacity":1},"transform":[{"filter":"!(indexof([1,2,3,7,8,9], datum.c) >= 0 && datum.x < -0.6)"}]}
]
}
}
],
"config":{
"font":"Liberation Sans",
"view":{"stroke":null},
"axis":{"domain":false,"ticks":false,"gridColor":"#EBEBEB","labelColor":"#4D4D4D","labelFontSize":18,"titleFontSize":23,"titleFontWeight":"normal","titleColor":"#000000"},
"legend":{"titleFontSize":23,"titleFontWeight":"normal","titleColor":"#000000","labelFontSize":18,"labelColor":"#000000"}
}
}
